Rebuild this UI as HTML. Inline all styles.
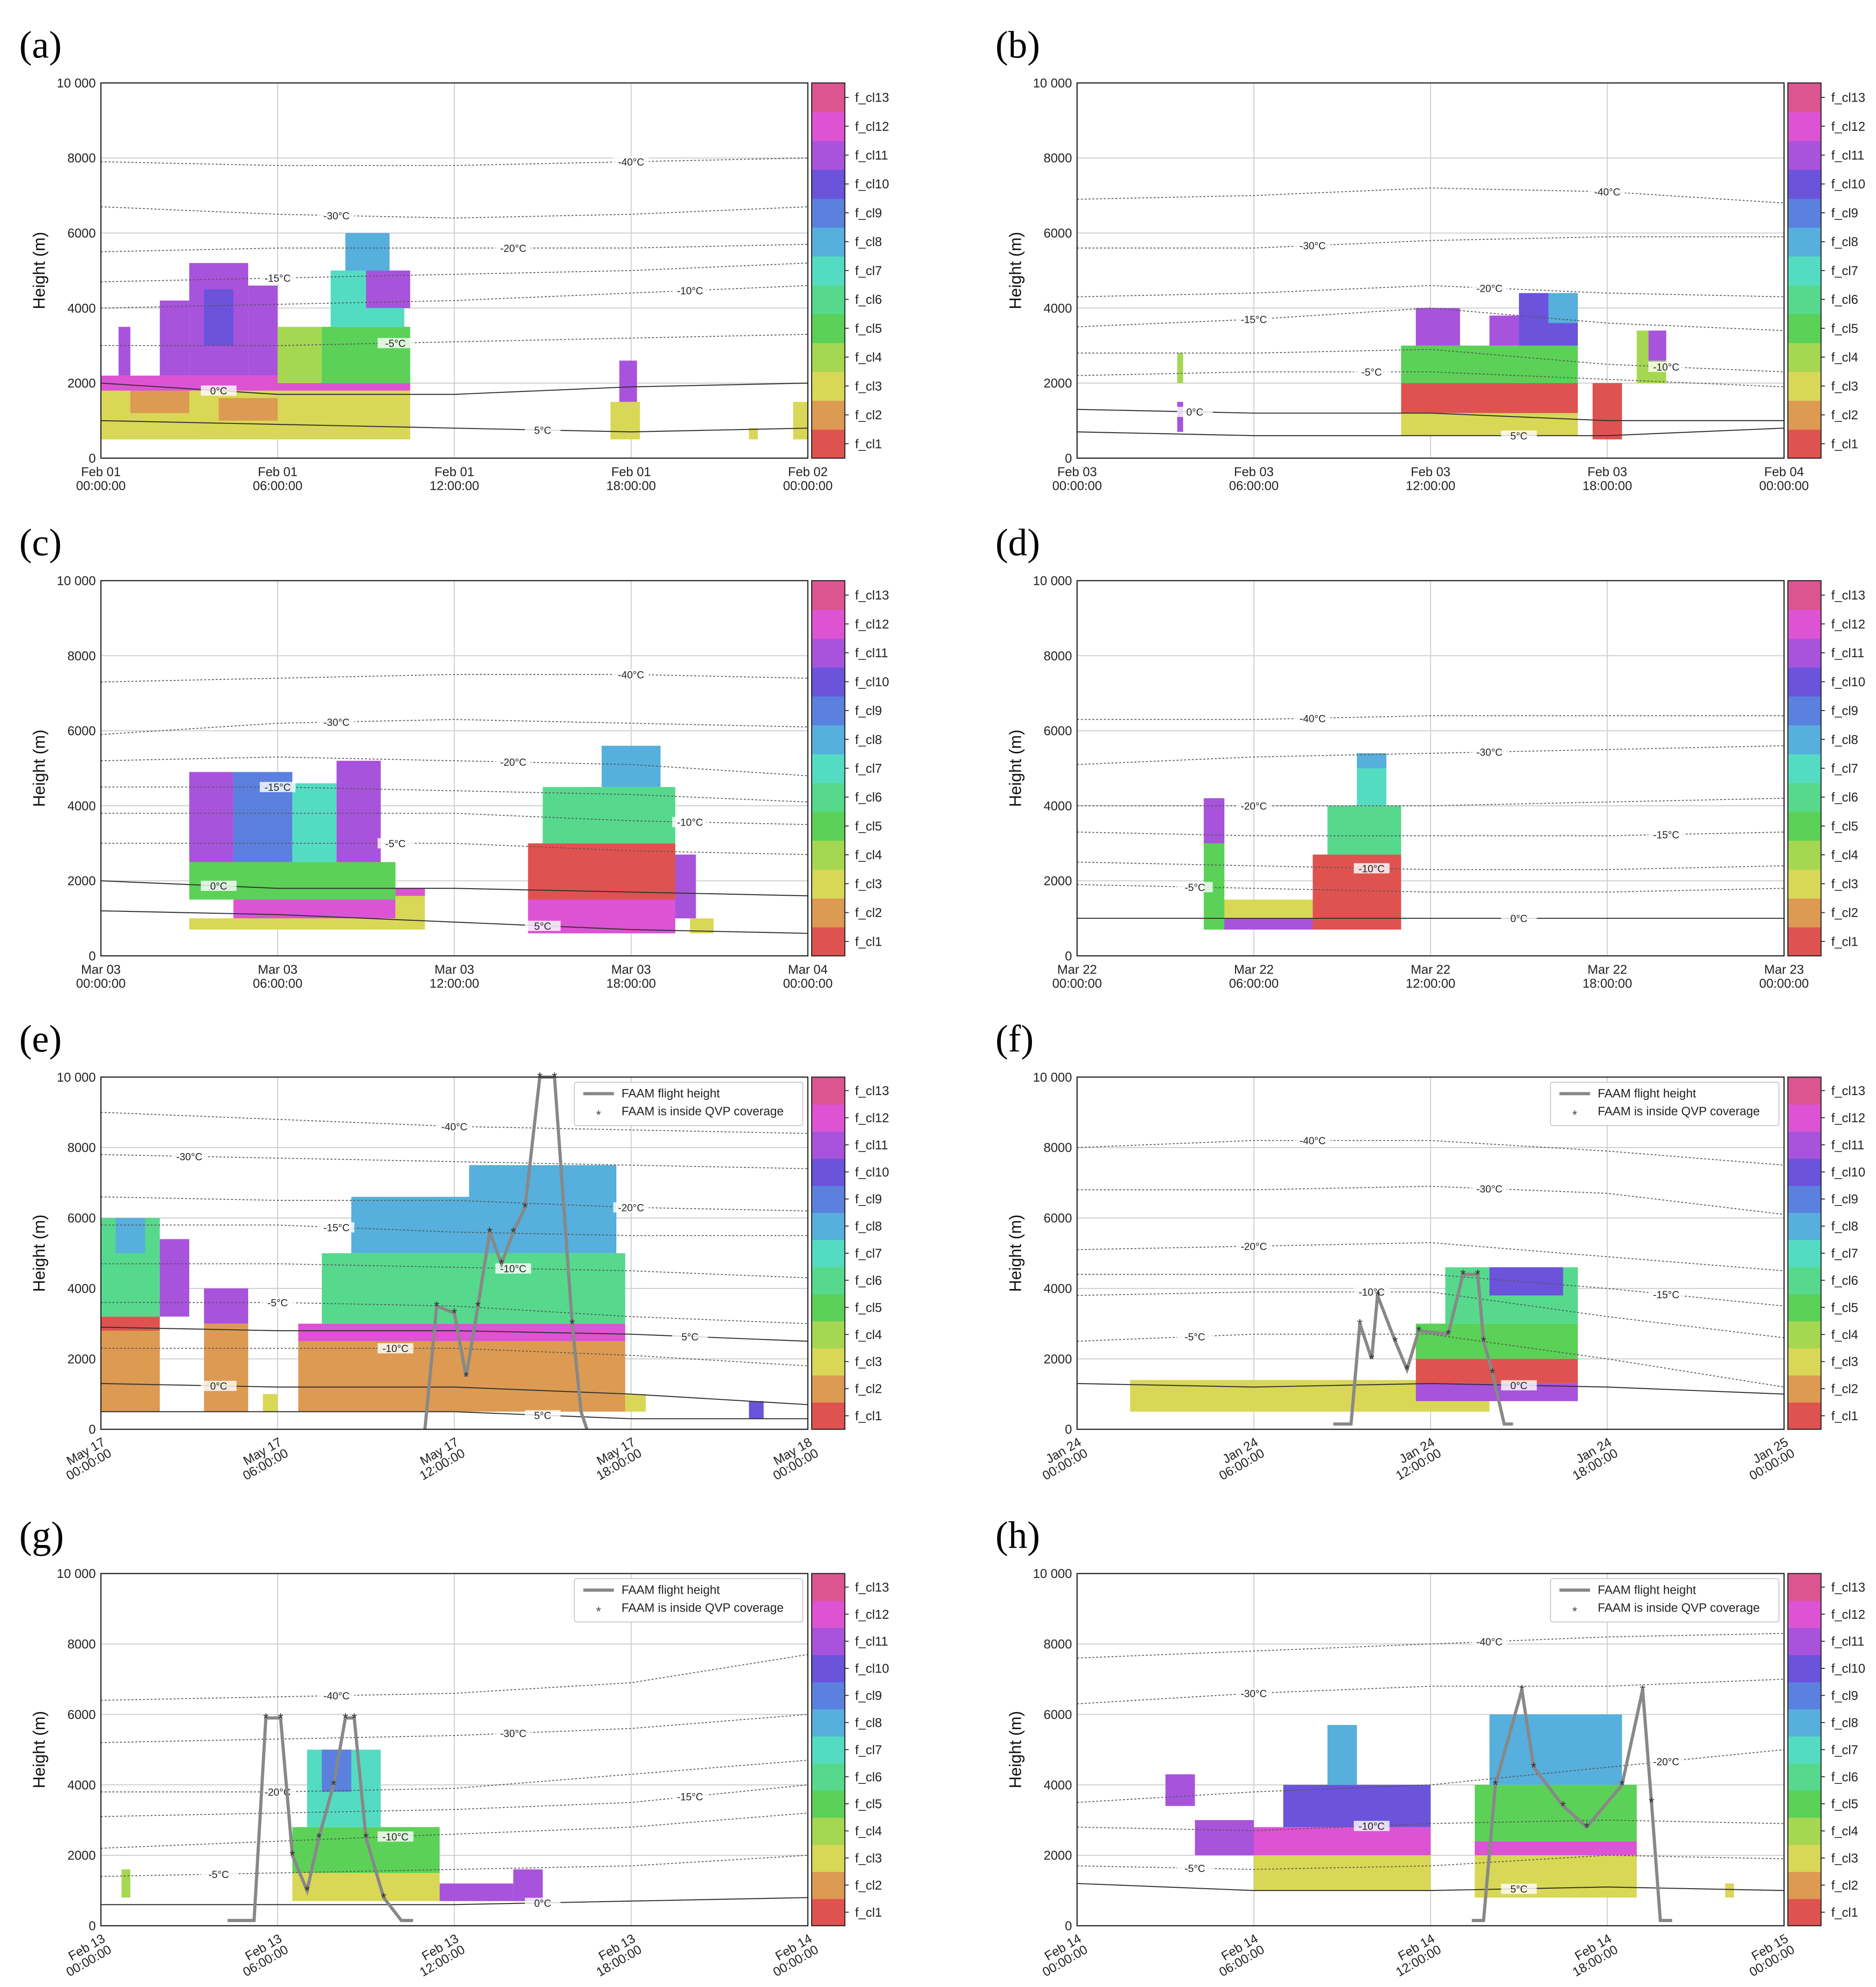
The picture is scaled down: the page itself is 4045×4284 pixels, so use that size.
<!DOCTYPE html>
<html><head><meta charset="utf-8">
<style>
html,body{margin:0;padding:0;background:#fff;}
svg{display:block;font-family:"Liberation Sans",sans-serif;}
</style></head>
<body>
<svg id="fig" width="4045" height="4284" viewBox="0 0 1470 1557" xmlns="http://www.w3.org/2000/svg"></svg>
<script>
const classColors=["#de5350","#dc9a52","#d9d756","#a6d752","#5bd157","#56d98c","#54dcc3","#56afdc","#5b80de","#6b53dc","#a853dc","#dc53d3","#dc5490"];
const classNames=["f_cl1","f_cl2","f_cl3","f_cl4","f_cl5","f_cl6","f_cl7","f_cl8","f_cl9","f_cl10","f_cl11","f_cl12","f_cl13"];
const yTicks=[0,2000,4000,6000,8000,10000];
const yTickLabels=["0","2000","4000","6000","8000","10 000"];
const xTicks=[0,6,12,18,24];
const isoHours=[0,6,12,18,24];
// blocks: [startHour,endHour,bottom,top,class]
const blocksA=[[0,10.5,500,2000,2],[0,3.5,500,1000,2],[1,3,1200,1800,1],[4,6,1000,1600,1],[0,10.5,1800,2200,11],[0.6,1,2200,3500,10],[2,3,2200,4200,10],[3,5,2200,5200,10],[3.5,4.5,3000,4500,9],[5,6,2200,4600,10],[6,7.5,2000,3500,3],[7.5,10.5,2000,3500,4],[7.8,10.3,3500,5000,6],[8.3,9.8,5000,6000,7],[9,10.5,4000,5000,10],[17.3,18.3,500,1500,2],[17.6,18.2,1500,2600,10],[22,22.3,500,800,2],[23.5,24,500,1500,2]];
const blocksB=[[3.4,3.6,700,1500,10],[3.4,3.6,2000,2800,3],[11,17,600,1200,2],[11,17,1200,2000,0],[11,17,2000,3000,4],[11.5,13,3000,4000,10],[14,15,3000,3800,10],[15,17,3000,4400,9],[16,17,3600,4400,7],[17.5,18.5,500,2000,0],[19,20,2000,3400,3],[19.4,20,2600,3400,10]];
const blocksC=[[3,10,700,1000,2],[4.5,10,1000,1500,11],[3,10,1500,2500,4],[3,4.5,2500,4900,10],[4.5,6.5,2500,4900,8],[6.5,8,2500,4600,6],[8,9.5,2500,5200,10],[10,11,700,1700,2],[10,11,1600,1800,11],[14.5,19.5,600,1500,11],[14.5,19.5,1500,3000,0],[15,19.5,3000,4500,5],[17,19,4500,5600,7],[19.5,20.2,1000,2700,10],[20,20.8,600,1000,2]];
const blocksD=[[4.3,5,700,4200,4],[4.3,5,3000,4200,10],[5,8,700,1000,10],[5,8,1000,1500,2],[8,11,700,2700,0],[8.5,11,2700,4000,5],[9.5,10.5,4000,5400,6],[9.5,10.5,5000,5400,7]];
const blocksE=[[0,2,500,2800,1],[0,2,2800,3200,0],[0,2,3200,6000,5],[0.5,1.5,5000,6000,7],[2,3,3200,5400,10],[3.5,5,500,3000,1],[3.5,5,3000,4000,10],[5.5,6,500,1000,2],[6.7,17.8,500,2500,1],[6.7,17.8,2500,3000,11],[7.5,17.8,3000,5000,5],[8.5,17.5,5000,6600,7],[12.5,17.5,6000,7500,7],[17.8,18.5,500,1000,2],[22,22.5,300,800,9]];
const blocksF=[[1.8,14,500,1400,2],[11.5,17,800,1300,10],[11.5,17,1300,2000,0],[11.5,17,2000,3000,4],[12.5,17,3000,4600,5],[14,16.5,3800,4600,9]];
const blocksG=[[0.7,1,800,1600,3],[6.5,11.5,700,1500,2],[6.5,11.5,1500,2800,4],[7,9.5,2800,5000,6],[7.5,8.5,3800,5000,8],[11.5,14,700,1200,10],[14,15,700,1600,10]];
const blocksH=[[3,4,3400,4300,10],[4,6,2000,3000,10],[6,12,1000,2000,2],[6,12,2000,2800,11],[7,12,2800,4000,9],[8.5,9.5,4000,5700,7],[13.5,19,800,2000,2],[13.5,19,2000,2400,11],[13.5,19,2400,4000,4],[14,18.5,4000,6000,7],[22,22.3,800,1200,2]];
// isotherms: label, heights at isoHours, label hour, line style
const isoA=[["5°C",[1000,900,800,700,800]],["0°C",[2000,1700,1700,1900,2000]],["-5°C",[3000,3000,3100,3200,3300]],["-10°C",[4000,4100,4200,4400,4600]],["-15°C",[4700,4800,4900,5000,5200]],["-20°C",[5500,5600,5600,5600,5700]],["-30°C",[6700,6500,6400,6500,6700]],["-40°C",[7900,7800,7800,7900,8000]]];
const isoB=[["5°C",[700,600,600,600,800]],["0°C",[1300,1200,1200,1000,1000]],["-5°C",[2200,2300,2300,2100,1900]],["-10°C",[2800,2800,2900,2500,2300]],["-15°C",[3500,3700,4000,3600,3400]],["-20°C",[4300,4400,4600,4400,4300]],["-30°C",[5600,5600,5800,5900,5900]],["-40°C",[6900,7000,7200,7100,6800]]];
const isoC=[["5°C",[1200,1100,900,700,600]],["0°C",[2000,1800,1800,1700,1600]],["-5°C",[3000,3000,3000,2800,2700]],["-10°C",[3800,3800,3800,3600,3500]],["-15°C",[4500,4500,4400,4300,4100]],["-20°C",[5200,5300,5200,5100,4800]],["-30°C",[5900,6200,6300,6200,6100]],["-40°C",[7300,7400,7500,7500,7400]]];
const isoD=[["0°C",[1000,1000,1000,1000,1000]],["-5°C",[1900,1800,1700,1700,1800]],["-10°C",[2500,2400,2300,2300,2400]],["-15°C",[3300,3200,3200,3200,3300]],["-20°C",[4000,4000,4000,4100,4200]],["-30°C",[5100,5300,5400,5500,5600]],["-40°C",[6300,6300,6400,6400,6400]]];
const isoE=[["5°C",[500,500,500,300,300]],["0°C",[1300,1200,1200,1000,700]],["-10°C",[2300,2300,2300,2100,1800]],["5°C",[2900,2800,2800,2700,2500]],["-5°C",[3600,3600,3500,3200,3000]],["-10°C",[4700,4700,4600,4500,4300]],["-15°C",[5800,5800,5600,5500,5500]],["-20°C",[6600,6500,6500,6300,6200]],["-30°C",[7800,7700,7600,7500,7400]],["-40°C",[9000,8800,8600,8500,8400]]];
const isoF=[["0°C",[1300,1200,1300,1200,1000]],["-5°C",[2500,2700,2700,2000,1200]],["-10°C",[3800,3900,3900,3200,2600]],["-15°C",[4400,4400,4400,4000,3500]],["-20°C",[5100,5200,5300,4900,4500]],["-30°C",[6800,6800,6900,6700,6100]],["-40°C",[8000,8200,8200,7900,7500]]];
const isoG=[["0°C",[600,600,600,700,800]],["-5°C",[1400,1500,1600,1700,2000]],["-10°C",[2200,2400,2600,2800,3200]],["-15°C",[3100,3200,3300,3500,4000]],["-20°C",[3800,3800,3900,4300,4700]],["-30°C",[5200,5300,5400,5600,6000]],["-40°C",[6400,6500,6600,6900,7700]]];
const isoH=[["5°C",[1200,1000,1000,1100,1000]],["-5°C",[1700,1600,1700,2000,1900]],["-10°C",[2800,2700,2900,3000,2900]],["-20°C",[3500,3800,4000,4500,5000]],["-30°C",[6300,6600,6800,6800,7000]],["-40°C",[7600,7800,8000,8200,8300]]];
const flightHourE=[11,11.4,12,12.4,12.8,13.2,13.6,14,14.4,14.9,15.4,16,16.3,16.5];
const flightHeightE=[0,3500,3300,1500,3500,5600,4700,5600,6300,10000,10000,3000,500,0];
const flightHourF=[8.7,9.3,9.6,10,10.2,10.8,11.2,11.6,12.6,13.1,13.6,13.8,14.1,14.5,14.8];
const flightHeightF=[150,150,3000,2000,3800,2500,1700,2800,2700,4400,4400,2500,1600,150,150];
const flightHourG=[4.3,5.2,5.6,6.1,6.5,7,7.4,7.9,8.3,8.6,9,9.6,10.2,10.6];
const flightHeightG=[150,150,5900,5900,2000,1000,2500,4000,5900,5900,2500,800,150,150];
const flightHourH=[13.4,13.8,14.2,15.1,15.5,16.5,17.3,18.5,19.2,19.5,19.8,20.2];
const flightHeightH=[150,150,4000,6700,4500,3400,2800,4000,6700,3500,150,150];

const NS="http://www.w3.org/2000/svg";
const svg=document.getElementById('fig');
function mk(tag,attrs,parent){const e=document.createElementNS(NS,tag);for(const k in attrs)e.setAttribute(k,attrs[k]);(parent||svg).appendChild(e);return e;}

const panels=[
 {id:"a",x:79,y:65,h:294,day:"Feb 01",next:"Feb 02",blocks:blocksA,iso:isoA,rot:false},
 {id:"b",x:844,y:65,h:294,day:"Feb 03",next:"Feb 04",blocks:blocksB,iso:isoB,rot:false},
 {id:"c",x:79,y:455,h:294,day:"Mar 03",next:"Mar 04",blocks:blocksC,iso:isoC,rot:false},
 {id:"d",x:844,y:455,h:294,day:"Mar 22",next:"Mar 23",blocks:blocksD,iso:isoD,rot:false},
 {id:"e",x:79,y:844,h:276,day:"May 17",next:"May 18",blocks:blocksE,iso:isoE,rot:true,fh:flightHourE,fz:flightHeightE},
 {id:"f",x:844,y:844,h:276,day:"Jan 24",next:"Jan 25",blocks:blocksF,iso:isoF,rot:true,fh:flightHourF,fz:flightHeightF},
 {id:"g",x:79,y:1233,h:276,day:"Feb 13",next:"Feb 14",blocks:blocksG,iso:isoG,rot:true,fh:flightHourG,fz:flightHeightG},
 {id:"h",x:844,y:1233,h:276,day:"Feb 14",next:"Feb 15",blocks:blocksH,iso:isoH,rot:true,fh:flightHourH,fz:flightHeightH}
];
const W=554;
panels.forEach(p=>{
 const g=mk('g',{});
 
 
 const X=hr=>p.x+hr/24*W;
 const Y=z=>p.y+p.h-z/10000*p.h;
 const lbl=mk('text',{x:p.x-64,y:p.y-20,'font-size':30,'font-family':'"Liberation Serif",serif'},g);
 lbl.textContent='('+p.id+')';
 
 
 // grid
 yTicks.forEach((t,i)=>{
  const gl=mk('line',{x1:p.x,x2:p.x+W,y1:Y(t),y2:Y(t),stroke:'#cfcfcf','stroke-width':0.8},g);
  
  
  const tl=mk('text',{x:p.x-4,y:Y(t)+3.5,'font-size':10,'text-anchor':'end',fill:'#222'},g);
  tl.textContent=yTickLabels[i];
  
  
 });
 xTicks.forEach((t,i)=>{
  const gl=mk('line',{x1:X(t),x2:X(t),y1:p.y,y2:p.y+p.h,stroke:'#cfcfcf','stroke-width':0.8},g);
  
  
  const d=(i==4)?p.next:p.day;
  const tl=mk('text',{'font-size':10,'text-anchor':p.rot?'end':'middle',fill:'#222'},g);
  if(p.rot){tl.setAttribute('transform','translate('+(X(t)+4)+','+(p.y+p.h+12)+') rotate(-30)');
   tl.innerHTML='<tspan x="0" dy="0">'+d+'</tspan><tspan x="0" dy="10">00:00:00</tspan>'.replace('00:00:00',['00:00:00','06:00:00','12:00:00','18:00:00','00:00:00'][i]);}
  else{tl.innerHTML='<tspan x="'+X(t)+'" y="'+(p.y+p.h+14)+'">'+d+'</tspan><tspan x="'+X(t)+'" y="'+(p.y+p.h+25)+'">'+['00:00:00','06:00:00','12:00:00','18:00:00','00:00:00'][i]+'</tspan>';}
  
  
 });
 // blocks
 p.blocks.forEach(b=>{
  const r=mk('rect',{x:X(b[0]),y:Y(b[3]),width:X(b[1])-X(b[0]),height:Y(b[2])-Y(b[3]),fill:classColors[b[4]]},g);
  
  
 });
 // isotherms
 p.iso.forEach((iso,k)=>{
  const pts=isoHours.map((h,i)=>X(h)+','+Y(iso[1][i])).join(' ');
  const solid=iso[0]==="0°C"||iso[0]==="5°C";
  const l=mk('polyline',{points:pts,fill:'none',stroke:solid?'#333':'#555','stroke-width':solid?0.8:0.7,'stroke-dasharray':solid?'':'1.5,1.5'},g);
  
  
  const lh=[15,4,10,20,6,14,8,18,3,12][k%10];
  const i0=Math.floor(lh/6),f=(lh-i0*6)/6;
  const z=iso[1][i0]+(iso[1][Math.min(i0+1,4)]-iso[1][i0])*f;
  const bg=mk('rect',{x:X(lh)-14,y:Y(z)-4,width:28,height:8,fill:'#fff',opacity:0.8},g);
  
  
  const t=mk('text',{x:X(lh),y:Y(z)+3,'font-size':8,'text-anchor':'middle',fill:'#222'},g);
  t.textContent=iso[0];
  
  
 });
 // flight
 if(p.fh){
  const pts=p.fh.map((h,i)=>X(h)+','+Y(p.fz[i])).join(' ');
  const fl=mk('polyline',{points:pts,fill:'none',stroke:'#888','stroke-width':2.5},g);
  
  
  p.fh.forEach((h,i)=>{ if(p.fz[i]>500){
   const s=mk('text',{x:X(h),y:Y(p.fz[i])+4,'font-size':11,'text-anchor':'middle',fill:'#333'},g);
   s.textContent='*';
   
   }});
  const lg=mk('g',{},g);
  
  
  mk('rect',{x:p.x+W-183,y:p.y+4,width:179,height:34,fill:'#fff',stroke:'#ccc','stroke-width':0.8,rx:2},lg);
  mk('line',{x1:p.x+W-176,x2:p.x+W-152,y1:p.y+13,y2:p.y+13,stroke:'#888','stroke-width':2.5},lg);
  const t1=mk('text',{x:p.x+W-146,y:p.y+16,'font-size':9.5,fill:'#222'},lg);t1.textContent='FAAM flight height';
  
  
  const st=mk('text',{x:p.x+W-164,y:p.y+33,'font-size':10,'text-anchor':'middle',fill:'#444'},lg);st.textContent='*';
  const t2=mk('text',{x:p.x+W-146,y:p.y+30,'font-size':9.5,fill:'#222'},lg);t2.textContent='FAAM is inside QVP coverage';
  
  
 }
 // axes frame
 const fr=mk('rect',{x:p.x,y:p.y,width:W,height:p.h,fill:'none',stroke:'#222','stroke-width':0.9},g);
 
 
 const yl=mk('text',{'font-size':13,'text-anchor':'middle',fill:'#111',transform:'translate('+(p.x-44)+','+(p.y+p.h/2)+') rotate(-90)'},g);
 yl.textContent='Height (m)';
 
 
 // colorbar
 const cb=mk('g',{},g);
 
 
 const cx=p.x+W+3, seg=p.h/13;
 classColors.forEach((c,i)=>{
  const r=mk('rect',{x:cx,y:p.y+p.h-(i+1)*seg,width:26,height:seg+0.3,fill:c},cb);
  
  
  const t=mk('text',{x:cx+34,y:p.y+p.h-(i+0.5)*seg+3.5,'font-size':10,fill:'#222'},cb);
  t.textContent=classNames[i];
  
  
  mk('line',{x1:cx+26,x2:cx+29,y1:p.y+p.h-(i+0.5)*seg,y2:p.y+p.h-(i+0.5)*seg,stroke:'#222','stroke-width':0.7},cb);
 });
 mk('rect',{x:cx,y:p.y,width:26,height:p.h,fill:'none',stroke:'#222','stroke-width':0.8},cb);
});
</script>
</body></html>
